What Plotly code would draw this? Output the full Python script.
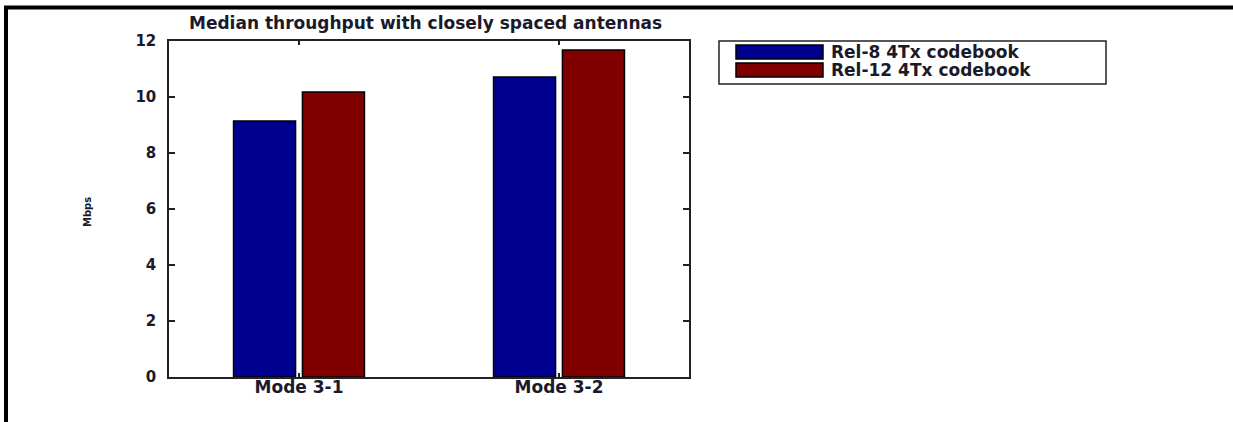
import plotly.graph_objects as go

categories = ["Mode 3-1", "Mode 3-2"]
series_names = ["Rel-8 4Tx codebook", "Rel-12 4Tx codebook"]
rel8_values = [9.14, 10.71]
rel12_values = [10.18, 11.68]
y_tick_values = [0, 2, 4, 6, 8, 10, 12]
title_text = "Median throughput with closely spaced antennas"
y_title = "Mbps"

colors = ["#000090", "#800000"]

W, H = 1233, 422
L, R, T, B = 169, 689, 41, 377


def px(x):
    return (x - L) / (R - L)


def py(y):
    return (B - y) / (B - T)


fig = go.Figure()
for name, vals, col in zip(series_names, [rel8_values, rel12_values], colors):
    fig.add_trace(go.Bar(
        x=categories, y=vals, name=name,
        marker=dict(color=col, line=dict(color="black", width=1.5)),
        showlegend=False,
    ))

font_main = "DejaVu Sans"
txt_col = "#1a1a2a"

fig.update_layout(
    width=W, height=H,
    margin=dict(l=L, r=W - R, t=T, b=H - B, autoexpand=False),
    paper_bgcolor="white", plot_bgcolor="white",
    barmode="group", bargap=0.47, bargroupgap=0.1,
    showlegend=False,
    xaxis=dict(
        range=[-0.5, 1.5], showgrid=False, zeroline=False,
        showline=True, linecolor="#222", linewidth=1.5, mirror="ticks",
        ticks="inside", ticklen=4, tickcolor="#222", tickwidth=1.5,
        tickfont=dict(family=font_main, size=17, color=txt_col, weight="bold"),
        ticklabelstandoff=-6,
        fixedrange=True,
    ),
    yaxis=dict(
        range=[0, 12], tickvals=y_tick_values, showgrid=False, zeroline=False,
        showline=True, linecolor="#222", linewidth=1.5, mirror="ticks",
        ticks="inside", ticklen=6, tickcolor="#222", tickwidth=1.5,
        tickfont=dict(family=font_main, size=15, color=txt_col, weight="bold"),
        ticklabelstandoff=8,
        fixedrange=True,
    ),
)

shapes = []
# outer black frame (left and top)
shapes.append(dict(type="line", xref="paper", yref="paper",
                   x0=px(6), x1=px(6), y0=py(6), y1=py(430),
                   line=dict(color="black", width=4)))
shapes.append(dict(type="line", xref="paper", yref="paper",
                   x0=px(4), x1=px(1240), y0=py(7.5), y1=py(7.5),
                   line=dict(color="black", width=4)))
# legend box
shapes.append(dict(type="rect", xref="paper", yref="paper",
                   x0=px(719), x1=px(1106), y0=py(41), y1=py(84),
                   line=dict(color="#222", width=1.5), fillcolor="white"))
sw_y = [(45, 59), (63, 77)]
annotations = []
for (ya, yb), col, name in zip(sw_y, colors, series_names):
    shapes.append(dict(type="rect", xref="paper", yref="paper",
                       x0=px(736), x1=px(823), y0=py(ya), y1=py(yb),
                       line=dict(color="black", width=1.5), fillcolor=col))
    annotations.append(dict(
        xref="paper", yref="paper", x=px(829), y=py((ya + yb) / 2),
        xanchor="left", yanchor="middle", showarrow=False,
        text=name, font=dict(family=font_main, size=17, color=txt_col, weight="bold")))

annotations.append(dict(
    xref="paper", yref="paper", x=px(425), y=py(23),
    xanchor="center", yanchor="middle", showarrow=False,
    text=title_text, font=dict(family=font_main, size=17, color=txt_col, weight="bold")))
annotations.append(dict(
    xref="paper", yref="paper", x=px(87), y=py(212),
    xanchor="center", yanchor="middle", showarrow=False, textangle=-90,
    text=y_title, font=dict(family=font_main, size=10, color=txt_col, weight="bold")))

fig.update_layout(shapes=shapes, annotations=annotations)

fig.write_html("out.html", config={"displayModeBar": False},
               post_script="document.body.style.margin='0';document.body.style.overflow='hidden';")
